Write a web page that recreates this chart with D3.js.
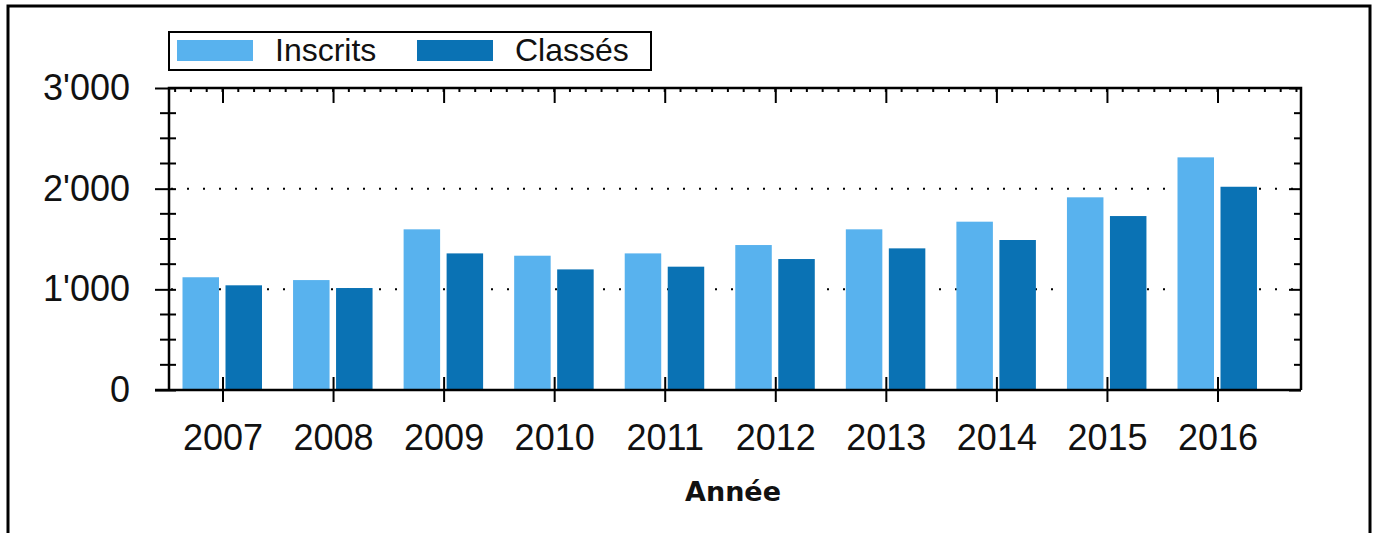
<!DOCTYPE html>
<html><head><meta charset="utf-8">
<script src="https://cdn.jsdelivr.net/npm/d3@7"></script>
<style>body{margin:0;background:#fff}svg{display:block}</style>
</head><body>
<script>
const years = ["2007","2008","2009","2010","2011","2012","2013","2014","2015","2016"];
const inscrits = [1120, 1092, 1596, 1334, 1357, 1440, 1596, 1672, 1914, 2311];
const classes = [1040, 1013, 1357, 1198, 1225, 1301, 1407, 1490, 1728, 2019];
const seriesNames = ["Inscrits", "Classés"];
const yTicks = [0, 1000, 2000, 3000];
const gridValues = [1000, 2000];
const xTitle = "Année";
const colors = ["#58b2ee", "#0a72b4"];

const W = 1375, H = 533;
const L = 169, R = 1301, T = 88, B = 390;
const svg = d3.select("body").append("svg").attr("width", W).attr("height", H);

// outer frame (no bottom edge)
svg.append("path").attr("d", `M8,${H} V6 H1370 V${H}`).attr("fill","none").attr("stroke","#000").attr("stroke-width",3);

const x = d3.scalePoint().domain(years).range([222.5, 1217.5]);
const y = d3.scaleLinear().domain([0, 3000]).range([B, T]);
const step = x.step();
const fmt = d3.formatLocale({decimal: ".", thousands: "'", grouping: [3], currency: ["", ""]}).format(",");

// grid
svg.append("g").selectAll("line").data(gridValues).join("line")
  .attr("x1", L).attr("x2", R).attr("y1", d => y(d)).attr("y2", d => y(d))
  .attr("stroke", "#000").attr("stroke-width", 2).attr("stroke-dasharray", "2,14").attr("stroke-dashoffset", -2);

// bars
const bw = 36.5;
const g = svg.append("g");
g.selectAll("rect.a").data(years).join("rect").attr("class","a")
  .attr("x", d => x(d) - 40).attr("width", bw)
  .attr("y", (d,i) => y(inscrits[i])).attr("height", (d,i) => B - y(inscrits[i]))
  .attr("fill", colors[0]);
g.selectAll("rect.b").data(years).join("rect").attr("class","b")
  .attr("x", d => x(d) + 3).attr("width", bw)
  .attr("y", (d,i) => y(classes[i])).attr("height", (d,i) => B - y(classes[i]))
  .attr("fill", colors[1]);

// minor ticks
const minorY = d3.range(0, 3001, 250).filter(v => v % 1000 !== 0);
svg.append("g").selectAll("line").data(minorY).join("line")
  .attr("x1", 160).attr("x2", 176).attr("y1", d => y(d)).attr("y2", d => y(d))
  .attr("stroke", "#000").attr("stroke-width", 2);
svg.append("g").selectAll("line").data(minorY).join("line")
  .attr("x1", R - 7).attr("x2", R).attr("y1", d => y(d)).attr("y2", d => y(d))
  .attr("stroke", "#000").attr("stroke-width", 2);
const ms = step / 7;
const minorX = d3.range(x(years[0]) - 3 * ms, R, ms).filter(v => v > L + 2);
svg.append("g").selectAll("line").data(minorX).join("line")
  .attr("x1", d => d).attr("x2", d => d).attr("y1", T).attr("y2", T + 4)
  .attr("stroke", "#000").attr("stroke-width", 2);

const font = "'Liberation Sans', Arial, sans-serif";

// left axis
const ax = svg.append("g").attr("transform", `translate(${L},0)`)
  .call(d3.axisLeft(y).tickValues(yTicks).tickFormat(fmt).tickSize(14).tickPadding(25));
ax.select(".domain").remove();
ax.selectAll(".tick line").attr("x1", 7).attr("stroke", "#000").attr("stroke-width", 2);
ax.selectAll(".tick text").attr("font-family", font).attr("font-size", 36).attr("fill", "#111");

// right axis ticks
const ar = svg.append("g").attr("transform", `translate(${R},0)`)
  .call(d3.axisLeft(y).tickValues(yTicks).tickFormat("").tickSize(12));
ar.select(".domain").remove();
ar.selectAll(".tick line").attr("stroke", "#000").attr("stroke-width", 2);

// top axis ticks
const at = svg.append("g").attr("transform", `translate(0,${T})`)
  .call(d3.axisBottom(x).tickFormat("").tickSize(15));
at.select(".domain").remove();
at.selectAll(".tick line").attr("stroke", "#000").attr("stroke-width", 2);

// bottom axis
const ab = svg.append("g").attr("transform", `translate(0,${B})`)
  .call(d3.axisBottom(x).tickSize(12).tickPadding(22));
ab.select(".domain").remove();
ab.selectAll(".tick line").attr("y1", -13).attr("stroke", "#000").attr("stroke-width", 2);
ab.selectAll(".tick text").attr("font-family", font).attr("font-size", 36).attr("fill", "#111");

// frame lines
svg.append("path").attr("d", `M${L},${B} V${T} H${R} V${B}`).attr("fill","none").attr("stroke","#000").attr("stroke-width",2.5);
svg.append("line").attr("x1", 155).attr("x2", R).attr("y1", B).attr("y2", B).attr("stroke","#000").attr("stroke-width",2.5);

// x title
svg.append("text").attr("x", (L + R) / 2 - 2).attr("y", 501).attr("text-anchor", "middle")
  .attr("font-family", "'DejaVu Sans', Verdana, sans-serif").attr("font-weight", "bold")
  .attr("font-size", 27).attr("fill", "#111").text(xTitle);

// legend
const lg = svg.append("g");
lg.append("rect").attr("x", 169).attr("y", 32).attr("width", 482).attr("height", 38)
  .attr("fill", "#fff").attr("stroke", "#000").attr("stroke-width", 2);
const legX = [177, 417];
seriesNames.forEach((n, i) => {
  lg.append("rect").attr("x", legX[i]).attr("y", 40).attr("width", 76).attr("height", 21).attr("fill", colors[i]);
  lg.append("text").attr("x", legX[i] + 98).attr("y", 61).attr("font-family", font)
    .attr("font-size", 32).attr("fill", "#111").text(n);
});
</script>
</body></html>
